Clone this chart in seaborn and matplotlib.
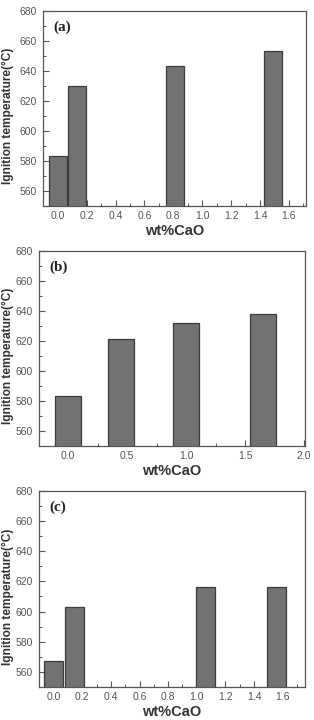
import pandas as pd
import matplotlib
matplotlib.use("Agg")
import matplotlib.pyplot as plt
from matplotlib.ticker import MultipleLocator
import seaborn as sns

# data
cao_a = [0.0, 0.135, 0.81, 1.49]
temp_a = [583, 630, 643, 653]
cao_b = [0.0, 0.45, 1.0, 1.65]
temp_b = [583, 621, 632, 638]
cao_c = [0.0, 0.145, 1.06, 1.557]
temp_c = [567, 603, 616, 616]

panel_labels = ["(a)", "(b)", "(c)"]

sns.set_style("ticks")
plt.rcParams['font.family'] = ['Liberation Sans', 'DejaVu Sans']

fig = plt.figure(figsize=(3.14, 7.2), dpi=100)

# [left, bottom, width, height] for each panel
boxes = [
    [0.136, 0.714, 0.839, 0.271],
    [0.123, 0.381, 0.849, 0.271],
    [0.123, 0.046, 0.849, 0.272],
]
panels = [
    (cao_a, temp_a, 0.93, (-0.105, 1.72), 0.2, 0.1, -0.108),
    (cao_b, temp_b, 0.49, (-0.25, 2.01), 0.5, 0.25, -0.094),
    (cao_c, temp_c, 0.90, (-0.105, 1.758), 0.2, 0.1, -0.094),
]

frame = "#555555"
for box, (x, y, w, xlim, major, minor, ylab_x), lab in zip(boxes, panels, panel_labels):
    ax = fig.add_axes(box)
    df = pd.DataFrame({"cao": x, "temp": y})
    sns.barplot(data=df, x="cao", y="temp", native_scale=True, width=w,
                color="#727272", saturation=1, edgecolor="#3c3c3c",
                linewidth=0.9, errorbar=None, ax=ax)
    ax.set_xlim(*xlim)
    ax.set_ylim(550, 680)
    ax.xaxis.set_major_locator(MultipleLocator(major))
    ax.xaxis.set_minor_locator(MultipleLocator(minor))
    ax.yaxis.set_minor_locator(MultipleLocator(10))
    ax.set_yticks([560, 580, 600, 620, 640, 660, 680])
    ax.xaxis.set_major_formatter(plt.FormatStrFormatter("%.1f"))
    ax.tick_params(which="major", direction="in", length=4, width=0.8,
                   color=frame, labelsize=7.5, labelcolor="#555555", pad=4)
    ax.tick_params(which="minor", direction="in", length=2, width=0.7, color=frame)
    for s in ax.spines.values():
        s.set_visible(True)
        s.set_color(frame)
        s.set_linewidth(0.9)
    ax.set_xlabel("wt%CaO", fontsize=10.5, fontweight="bold", color="#333333", labelpad=2)
    ax.set_ylabel("Ignition temperature(°C)", fontsize=8.6, fontweight="bold",
                  color="#333333")
    ax.yaxis.set_label_coords(ylab_x, 0.46)
    ax.text(0.04, 0.95, lab, transform=ax.transAxes, fontsize=11,
            fontweight="bold", family=["Liberation Serif", "DejaVu Serif"],
            color="#222222", va="top")

fig.savefig("out.png", dpi=100)
